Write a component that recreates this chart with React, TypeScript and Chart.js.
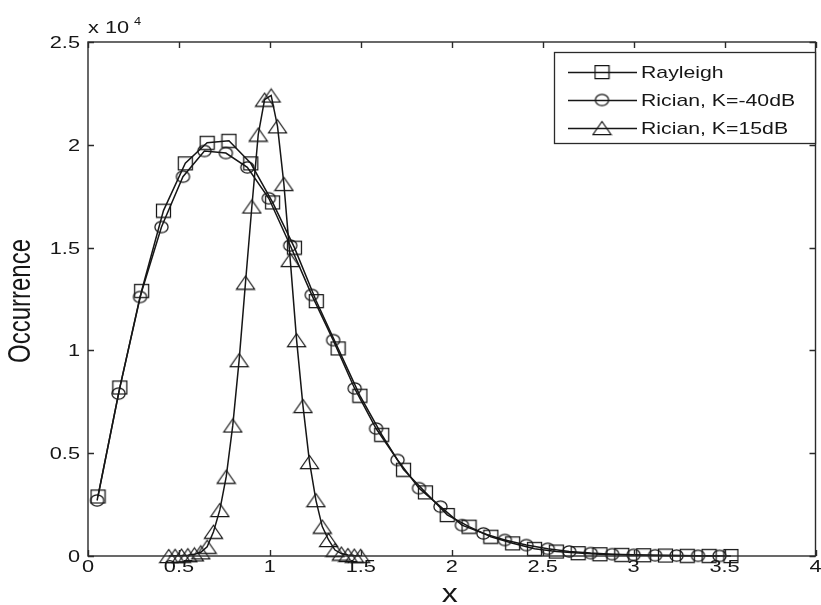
import React, { useEffect, useRef } from "react";
import { Chart, registerables } from "chart.js";

Chart.register(...registerables);

// ---- data (occurrence counts) ----
const rayleighX = [0.055, 0.175, 0.295, 0.415, 0.535, 0.655, 0.775, 0.895, 1.015, 1.135, 1.255, 1.375, 1.495, 1.615, 1.735, 1.855, 1.975, 2.095, 2.215, 2.335, 2.455, 2.575, 2.695, 2.815, 2.935, 3.055, 3.175, 3.295, 3.415, 3.535];
const rayleighY = [2900, 8200, 12900, 16800, 19100, 20100, 20200, 19100, 17200, 15000, 12400, 10100, 7800, 5900, 4200, 3100, 2000, 1430, 940, 620, 350, 220, 140, 90, 60, 40, 25, 15, 10, 5];

const ricianLowX = [0.05, 0.168, 0.286, 0.404, 0.522, 0.64, 0.758, 0.876, 0.994, 1.112, 1.23, 1.348, 1.466, 1.584, 1.702, 1.82, 1.938, 2.056, 2.174, 2.292, 2.41, 2.528, 2.646, 2.764, 2.882, 3.0, 3.118, 3.236, 3.354, 3.472];
const ricianLowY = [2700, 7900, 12600, 16000, 18450, 19700, 19600, 18900, 17400, 15100, 12700, 10500, 8150, 6200, 4670, 3300, 2400, 1500, 1100, 780, 530, 350, 220, 140, 90, 55, 35, 20, 10, 5];

const ricianHighX = [0.444, 0.479, 0.514, 0.549, 0.585, 0.62, 0.655, 0.69, 0.725, 0.76, 0.796, 0.831, 0.866, 0.901, 0.936, 0.971, 1.007, 1.042, 1.077, 1.112, 1.147, 1.182, 1.218, 1.253, 1.288, 1.323, 1.358, 1.393, 1.429, 1.464, 1.499];
const ricianHighY = [0, 10, 20, 40, 80, 180, 450, 1180, 2240, 3860, 6350, 9530, 13300, 17000, 20500, 22200, 22400, 20900, 18100, 14400, 10500, 7300, 4570, 2720, 1430, 780, 290, 120, 50, 20, 10];

const seriesNames = ["Rayleigh", "Rician, K=-40dB", "Rician, K=15dB"];
const xTicks = [0, 0.5, 1, 1.5, 2, 2.5, 3, 3.5, 4];
const xTickLabels = ["0", "0.5", "1", "1.5", "2", "2.5", "3", "3.5", "4"];
const yTicks = [0, 5000, 10000, 15000, 20000, 25000];
const yTickLabels = ["0", "0.5", "1", "1.5", "2", "2.5"];
const xTitle = "x";
const yTitle = "Occurrence";
const exponentBase = "x 10";
const exponentPower = "4";

const FONT = '"Liberation Sans", Arial, Helvetica, sans-serif';
const INK = "#161616";
const SX = 1.28;

function makeMarker(kind: string): HTMLCanvasElement {
  const c = document.createElement("canvas");
  let w = 17, h = 16;
  if (kind === "circle") { w = 17; h = 15; }
  if (kind === "triangle") { w = 21; h = 16; }
  c.width = w; c.height = h;
  const g = c.getContext("2d")!;
  g.strokeStyle = INK;
  g.lineWidth = 1.25;
  g.beginPath();
  if (kind === "square") {
    g.rect(1.5, 1.5, 14, 13);
  } else if (kind === "circle") {
    g.ellipse(8.5, 7.5, 6.6, 5.7, 0, 0, Math.PI * 2);
  } else {
    g.moveTo(10.5, 1.5);
    g.lineTo(19.5, 14.5);
    g.lineTo(1.5, 14.5);
    g.closePath();
  }
  g.stroke();
  return c;
}

function stretchText(ctx: CanvasRenderingContext2D, text: string, x: number, y: number, size: number, align: CanvasTextAlign, baseline: CanvasTextBaseline, sx = SX) {
  ctx.save();
  ctx.font = `${size}px ${FONT}`;
  ctx.textAlign = align;
  ctx.textBaseline = baseline;
  ctx.fillStyle = INK;
  ctx.translate(x, y);
  ctx.scale(sx, 1);
  ctx.fillText(text, 0, 0);
  ctx.restore();
}

export default function App() {
  const ref = useRef<HTMLCanvasElement>(null);

  useEffect(() => {
    const canvas = ref.current!;
    const markers = [makeMarker("square"), makeMarker("circle"), makeMarker("triangle")];
    const mk = (xs: number[], ys: number[]) => xs.map((x, i) => ({ x, y: ys[i] }));

    const framePlugin = {
      id: "framePlugin",
      beforeDraw(chart: any) {
        const ctx = chart.ctx as CanvasRenderingContext2D;
        ctx.save();
        ctx.fillStyle = "#fff";
        ctx.fillRect(0, 0, chart.width, chart.height);
        ctx.restore();
      },
      afterDatasetsDraw(chart: any) {
        const ctx = chart.ctx as CanvasRenderingContext2D;
        const a = chart.chartArea;
        const xs = chart.scales.x;
        const ys = chart.scales.y;
        ctx.save();
        ctx.strokeStyle = "#2a2a2a";
        ctx.lineWidth = 1.4;
        ctx.strokeRect(a.left, a.top, a.right - a.left, a.bottom - a.top);
        const TL = 6;
        ctx.beginPath();
        xTicks.forEach((v) => {
          const px = Math.round(xs.getPixelForValue(v)) + 0.5;
          ctx.moveTo(px, a.bottom); ctx.lineTo(px, a.bottom - TL);
          ctx.moveTo(px, a.top); ctx.lineTo(px, a.top + TL);
        });
        yTicks.forEach((v) => {
          const py = Math.round(ys.getPixelForValue(v)) + 0.5;
          ctx.moveTo(a.left, py); ctx.lineTo(a.left + TL, py);
          ctx.moveTo(a.right, py); ctx.lineTo(a.right - TL, py);
        });
        ctx.stroke();

        // tick labels
        xTicks.forEach((v, i) => {
          stretchText(ctx, xTickLabels[i], xs.getPixelForValue(v), a.bottom + 16, 17, "center", "alphabetic");
        });
        yTicks.forEach((v, i) => {
          stretchText(ctx, yTickLabels[i], a.left - 8, ys.getPixelForValue(v) + 6, 17, "right", "alphabetic");
        });

        // exponent
        stretchText(ctx, exponentBase, a.left, 33, 17, "left", "alphabetic");
        stretchText(ctx, exponentPower, a.left + 46, 25, 10, "left", "alphabetic");

        // axis titles
        stretchText(ctx, xTitle, (a.left + a.right) / 2 - 2, 602, 25, "center", "alphabetic");
        ctx.save();
        ctx.font = `24px ${FONT}`;
        ctx.fillStyle = INK;
        ctx.textAlign = "center";
        ctx.textBaseline = "middle";
        ctx.translate(22, (a.top + a.bottom) / 2 + 2);
        ctx.scale(SX, 1);
        ctx.rotate(-Math.PI / 2);
        ctx.fillText(yTitle, 0, 0);
        ctx.restore();

        // legend
        const bx = 554, by = 52, bw = 261, bh = 91;
        ctx.fillStyle = "#fff";
        ctx.fillRect(bx, by, bw, bh);
        ctx.lineWidth = 1.3;
        ctx.strokeStyle = "#2a2a2a";
        ctx.strokeRect(bx + 0.5, by + 0.5, bw, bh);
        const rows = [72, 100, 128];
        rows.forEach((ry, i) => {
          ctx.beginPath();
          ctx.strokeStyle = INK;
          ctx.lineWidth = 1.5;
          ctx.moveTo(568, ry + 0.5);
          ctx.lineTo(637, ry + 0.5);
          ctx.stroke();
          const m = markers[i];
          ctx.drawImage(m, 602 - m.width / 2, ry - m.height / 2);
          stretchText(ctx, seriesNames[i], 641, ry + 6, 17, "left", "alphabetic", 1.25);
        });
        ctx.restore();
      },
    };

    const common = {
      borderColor: INK,
      borderWidth: 1.5,
      backgroundColor: "transparent",
      pointBorderColor: INK,
      pointBackgroundColor: "transparent",
      fill: false,
      tension: 0,
      clip: false as any,
    };

    const chart = new Chart(canvas, {
      type: "line",
      data: {
        datasets: [
          { ...common, label: seriesNames[0], data: mk(rayleighX, rayleighY), pointStyle: markers[0] as any },
          { ...common, label: seriesNames[1], data: mk(ricianLowX, ricianLowY), pointStyle: markers[1] as any },
          { ...common, label: seriesNames[2], data: mk(ricianHighX, ricianHighY), pointStyle: markers[2] as any },
        ],
      },
      options: {
        animation: false,
        responsive: false,
        maintainAspectRatio: false,
        events: [],
        layout: { padding: { left: 88, right: 5, top: 42, bottom: 49 } },
        scales: {
          x: { type: "linear", min: 0, max: 4, display: false },
          y: { type: "linear", min: 0, max: 25000, display: false },
        },
        plugins: { legend: { display: false }, tooltip: { enabled: false } },
      },
      plugins: [framePlugin],
    });
    return () => chart.destroy();
  }, []);

  return (
    <div style={{ position: "fixed", left: 0, top: 0, width: 821, height: 605, background: "#fff" }}>
      <canvas ref={ref} width={821} height={605} style={{ display: "block", width: 821, height: 605 }} />
    </div>
  );
}
